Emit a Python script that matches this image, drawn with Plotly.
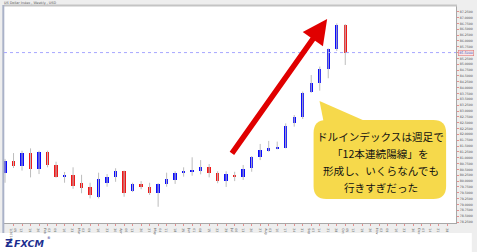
import plotly.graph_objects as go

# ---------------- data (weekly candles, US Dollar Index) ----------------
opens  = [80.36, 80.87, 80.65, 81.19, 80.51, 81.26, 80.70, 80.16, 80.26, 79.91, 79.76, 79.33, 79.93, 80.19, 80.43,
          79.59, 79.88, 79.76, 79.50, 79.86, 80.05, 80.36, 80.39, 80.42, 80.62, 80.33, 80.00, 80.26, 80.19, 80.55,
          81.02, 81.30, 81.39, 81.43, 82.47, 82.76, 83.83, 84.18, 84.79, 85.64, 86.68]
highs  = [80.95, 81.20, 81.30, 81.40, 81.30, 81.30, 80.83, 80.39, 80.59, 80.27, 79.93, 80.36, 80.30, 80.55, 80.45,
          79.93, 80.00, 79.93, 79.91, 80.36, 80.42, 80.59, 81.02, 80.90, 80.73, 80.42, 80.42, 80.40, 80.69, 81.07,
          81.59, 81.72, 81.69, 82.47, 82.83, 83.83, 84.54, 84.90, 85.68, 86.75, 86.72]
lows   = [79.93, 80.56, 80.45, 80.16, 80.30, 80.59, 80.15, 79.93, 79.67, 79.48, 79.26, 79.26, 79.76, 79.97, 79.33,
          79.53, 79.65, 79.41, 78.90, 79.76, 79.88, 80.19, 80.23, 80.29, 80.16, 79.91, 79.75, 80.00, 80.05, 80.40,
          80.90, 81.26, 81.36, 81.40, 82.33, 82.66, 83.78, 83.87, 84.40, 85.57, 84.97]
closes = [80.87, 80.65, 81.19, 80.51, 81.26, 80.69, 80.16, 80.27, 79.79, 79.69, 79.41, 80.10, 80.19, 80.42, 79.50,
          79.86, 79.73, 79.50, 79.88, 80.08, 80.36, 80.45, 80.45, 80.62, 80.33, 80.02, 80.29, 80.19, 80.51, 81.04,
          81.33, 81.40, 81.45, 82.36, 82.73, 83.78, 84.21, 84.80, 85.64, 86.68, 85.50]

# x tick labels (week start days, 2014) for week slots 1..52
week_days = ["05", "12", "19", "26", "02", "09", "16", "23", "02", "09", "16", "23", "30",
             "06", "13", "20", "27", "04", "11", "18", "25", "01", "08", "15", "22", "29",
             "06", "13", "20", "27", "03", "10", "17", "24", "31", "07", "14", "21", "28",
             "05", "12", "19", "26", "02", "09", "16", "23", "30", "07", "14", "21", "28"]
month_slots  = [1, 5, 9, 14, 18, 22, 27, 31, 36, 40, 44, 49]
month_names  = ["1/2014", "Feb", "Mar", "Apr", "May", "Jun", "Jul", "Aug", "Sep", "Oct", "Nov", "Dec"]

callout_lines = ["ドルインデックスは週足で", "「12本連続陽線」を", "形成し、いくらなんでも", "行きすぎだった"]
title_text = "US Dollar Index , Weekly , USD"

# ---------------- figure geometry helpers ----------------
W, H = 477, 252
L, R, T, B = 4, 461, 6, 223          # plot area in pixels


def PX(px):
    return (px - L) / (R - L)


def PY(py):
    return (B - py) / (B - T)


def rrect(x0, y0, x1, y1, r):
    pts = [("M", x0 + r, y0), ("L", x1 - r, y0), ("Q", x1, y0, x1, y0 + r), ("L", x1, y1 - r),
           ("Q", x1, y1, x1 - r, y1), ("L", x0 + r, y1), ("Q", x0, y1, x0, y1 - r), ("L", x0, y0 + r),
           ("Q", x0, y0, x0 + r, y0)]
    s = ""
    for p in pts:
        cmd = p[0]
        coords = p[1:]
        parts = []
        for i in range(0, len(coords), 2):
            parts.append(f"{PX(coords[i]):.5f},{PY(coords[i + 1]):.5f}")
        s += cmd + " " + " ".join(parts) + " "
    return s + "Z"


n = len(opens)
xs = list(range(n))
up = [c >= o for o, c in zip(opens, closes)]
body_base = [min(o, c) for o, c in zip(opens, closes)]
body_h = [max(abs(c - o), 0.025) for o, c in zip(opens, closes)]
body_col = ["#0a0aff" if u else "#f01818" for u in up]

wx, wy = [], []
for i in xs:
    wx += [i, i, None]
    wy += [lows[i], highs[i], None]

fig = go.Figure()
fig.add_trace(go.Scatter(x=wx, y=wy, mode="lines", line=dict(color="#bdbdbd", width=1),
                         hoverinfo="skip", showlegend=False))
fig.add_trace(go.Bar(x=xs, y=body_h, base=body_base, width=0.4,
                     marker=dict(color=body_col, line=dict(width=0)), showlegend=False))

tickvals = list(range(1, len(week_days) + 1))
ticktext = []
for k, d in zip(tickvals, week_days):
    if k in month_slots:
        ticktext.append(d + "<br>" + month_names[month_slots.index(k)])
    else:
        ticktext.append(d)

shapes = []
# white strip under the axis band (logo area)
shapes.append(dict(type="rect", xref="paper", yref="paper", x0=PX(0), x1=PX(W), y0=PY(W), y1=PY(233),
                   fillcolor="white", line=dict(width=0), layer="below"))
# header separator
shapes.append(dict(type="line", xref="paper", yref="paper", x0=PX(L), x1=PX(R + 1), y0=PY(5.5), y1=PY(5.5),
                   line=dict(color="#c4c4c4", width=2)))
# left border
shapes.append(dict(type="line", xref="paper", yref="paper", x0=PX(3.3), x1=PX(3.3), y0=PY(5), y1=PY(233),
                   line=dict(color="#aab2c8", width=2)))
# current price dotted line
shapes.append(dict(type="line", xref="paper", yref="y", x0=0, x1=1, y0=closes[-1], y1=closes[-1],
                   line=dict(color="#a6a6ff", width=1, dash="dot")))
# callout
yellow = "#f6d94b"
shapes.append(dict(type="path", xref="paper", yref="paper",
                   path=f"M {PX(323):.5f},{PY(101):.5f} L {PX(369):.5f},{PY(121):.5f} L {PX(328):.5f},{PY(126):.5f} Z",
                   fillcolor=yellow, line=dict(width=0)))
shapes.append(dict(type="path", xref="paper", yref="paper", path=rrect(317, 120, 451, 199, 13),
                   fillcolor=yellow, line=dict(width=0)))

annotations = []
for line_txt, ly in zip(callout_lines, [136.5, 153.3, 170.2, 187]):
    annotations.append(dict(xref="paper", yref="paper", x=PX(385), y=PY(ly), text=line_txt,
                            showarrow=False, xanchor="center", yanchor="middle",
                            font=dict(family="Noto Sans CJK JP", size=10.6, color="#111111")))
# big red arrow
annotations.append(dict(xref="x", yref="y", axref="x", ayref="y", x=37.87, y=86.94, ax=26.55, ay=81.12,
                        text="", showarrow=True, arrowhead=2, arrowsize=0.9, arrowwidth=5.5,
                        arrowcolor="#e00000", standoff=0, startstandoff=0))
# current price box on the axis
annotations.append(dict(xref="paper", yref="y", x=1, y=closes[-1], xanchor="left", yanchor="middle",
                        xshift=2, text=f"{closes[-1]:.4f}", showarrow=False,
                        font=dict(family="DejaVu Sans", size=3.3, color="#3050c0"),
                        bgcolor="#fde6e6", bordercolor="#e07878", borderwidth=0.6, borderpad=0.6))
# title
annotations.append(dict(xref="paper", yref="paper", x=PX(2), y=PY(3.2), xanchor="left", yanchor="middle",
                        text=title_text, showarrow=False,
                        font=dict(family="DejaVu Sans", size=3.4, color="#555555")))
# logo
annotations.append(dict(xref="paper", yref="paper", x=PX(3), y=PY(243), xanchor="left", yanchor="middle",
                        text="<b>Ƶ</b>", showarrow=False,
                        font=dict(family="DejaVu Sans", size=11, color="#1d2f8f")))
annotations.append(dict(xref="paper", yref="paper", x=PX(12), y=PY(243), xanchor="left", yanchor="middle",
                        text="<b><i>FXCM</i></b>", showarrow=False,
                        font=dict(family="DejaVu Sans", size=9.5, color="#1d2f8f")))
annotations.append(dict(xref="paper", yref="paper", x=PX(45), y=PY(238), xanchor="left", yanchor="middle",
                        text="®", showarrow=False,
                        font=dict(family="DejaVu Sans", size=3.5, color="#1d2f8f")))

fig.update_layout(
    width=W, height=H, autosize=False,
    margin=dict(l=L, r=W - R, t=T, b=H - B, pad=0),
    paper_bgcolor="#eeeeee", plot_bgcolor="white",
    barmode="overlay", bargap=0, showlegend=False,
    shapes=shapes, annotations=annotations,
    xaxis=dict(range=[-0.12, 53.02], tickvals=tickvals, ticktext=ticktext, showgrid=False, zeroline=False,
               showline=True, linecolor="#a8a8a8", linewidth=1, ticks="outside", ticklen=2,
               tickcolor="#e49090", tickfont=dict(family="DejaVu Sans", size=3.2, color="#555555"),
               fixedrange=True),
    yaxis=dict(range=[78.207, 87.494], side="right", tick0=78.25, dtick=0.25, tickformat=".4f",
               showgrid=False, zeroline=False, showline=True, linecolor="#a8a8a8", linewidth=1,
               ticks="outside", ticklen=2, tickcolor="#e49090",
               tickfont=dict(family="DejaVu Sans", size=3.2, color="#555555"), fixedrange=True),
)

fig.write_html("out.html")
